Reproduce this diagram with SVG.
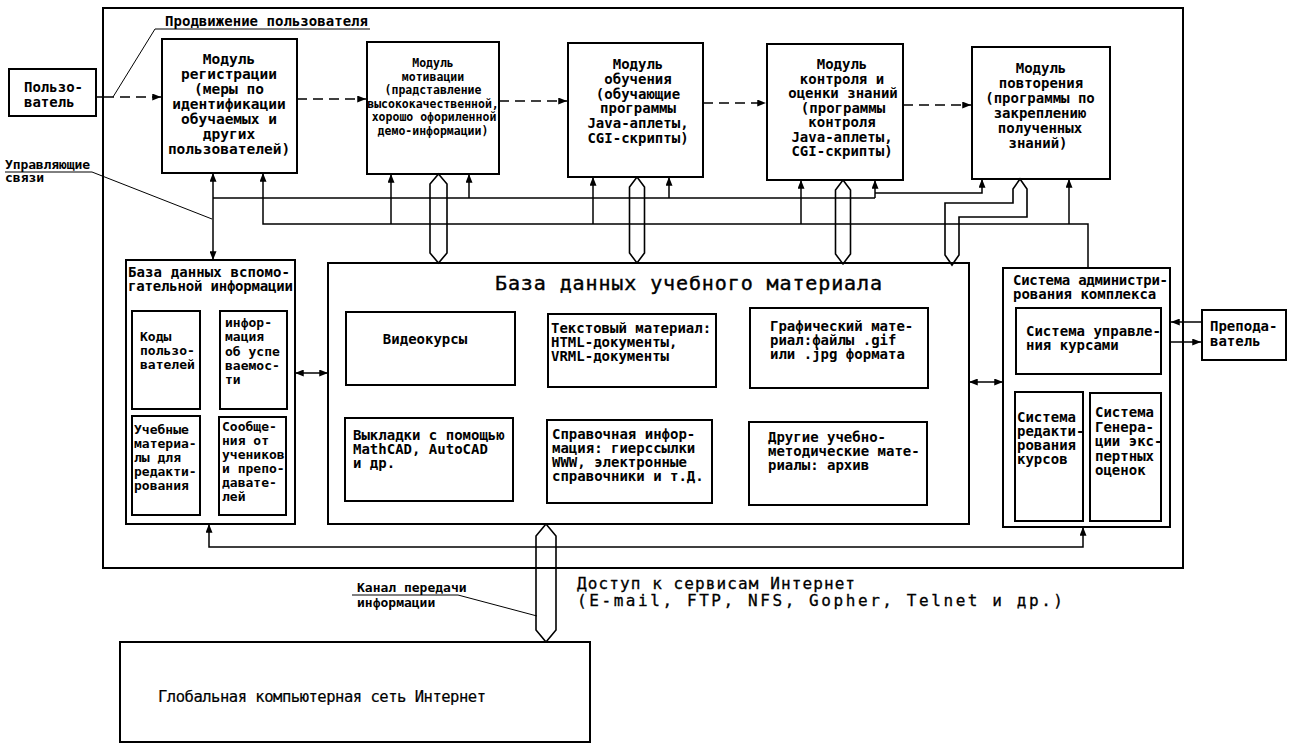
<svg xmlns="http://www.w3.org/2000/svg" width="1293" height="746" viewBox="0 0 1293 746">
  <style>
    .box { fill: none; stroke: #000; stroke-width: 2; }
    .ln { fill: none; stroke: #000; stroke-width: 1.5; }
    .thin { fill: none; stroke: #000; stroke-width: 1; }
    .dash { stroke-dasharray: 10 6; }
    .hollow { fill: none; stroke: #000; stroke-width: 1.6; stroke-linejoin: miter; }
    text { font-family: "DejaVu Sans Mono", "Liberation Mono", monospace; font-size: 14px; font-weight: bold; fill: #000; }
    .c { text-anchor: middle; }
    .m { font-size: 14.5px; }
    .s { font-size: 11.5px; }
    .k { font-size: 13px; }
    .big { font-size: 20px; font-weight: normal; stroke: #000; stroke-width: 0.4px; }
    .l { font-size: 16px; font-weight: normal; stroke: #000; stroke-width: 0.3px; }
    .g { font-size: 15.5px; font-weight: normal; stroke: #000; stroke-width: 0.2px; }
    .n { font-size: 13px; }
  </style>
  <defs>
    <marker id="ah" viewBox="0 0 10 8" refX="10" refY="4" markerWidth="9" markerHeight="7" markerUnits="userSpaceOnUse" orient="auto-start-reverse">
      <path d="M0,0 L10,4 L0,8 z" fill="#000"/>
    </marker>
  </defs>

  <rect x="0" y="0" width="1293" height="746" fill="#fff"/>

  <!-- outer boundary of the learning complex -->
  <rect id="frame" class="box" x="103" y="8" width="1080" height="560"/>

  <g id="user">
    <rect class="box" x="9" y="69" width="87" height="47"/>
    <text x="24" y="92">Пользо-</text>
    <text x="24" y="107">ватель</text>
  </g>

  <g id="mod-registration">
    <rect class="box" x="162" y="39" width="135" height="134"/>
    <text class="c m" x="229" y="64">Модуль</text>
    <text class="c m" x="229" y="79">регистрации</text>
    <text class="c m" x="229" y="94">(меры по</text>
    <text class="c m" x="229" y="109">идентификации</text>
    <text class="c m" x="229" y="124">обучаемых и</text>
    <text class="c m" x="229" y="139">других</text>
    <text class="c m" x="229" y="154">пользователей)</text>
  </g>

  <g id="mod-motivation">
    <rect class="box" x="367" y="42" width="132" height="132"/>
    <text class="c s" x="433" y="67">Модуль</text>
    <text class="c s" x="433" y="81">мотивации</text>
    <text class="c s" x="433" y="94">(прадставление</text>
    <text class="c s" x="433" y="108">высококачественной,</text>
    <text class="c s" x="434" y="121">хорошо офориленной</text>
    <text class="c s" x="433" y="135">демо-информации)</text>
  </g>

  <g id="mod-learning">
    <rect class="box" x="568" y="43" width="135" height="134"/>
    <text class="c" x="638" y="69">Модуль</text>
    <text class="c" x="638" y="84">обучения</text>
    <text class="c" x="638" y="99">(обучающие</text>
    <text class="c" x="638" y="113">программы</text>
    <text class="c" x="638" y="128">Java-аплеты,</text>
    <text class="c" x="638" y="143">CGI-скрипты)</text>
  </g>

  <g id="mod-control">
    <rect class="box" x="767" y="44" width="136" height="136"/>
    <text class="c" x="842" y="69">Модуль</text>
    <text class="c" x="842" y="84">контроля и</text>
    <text class="c" x="843" y="98">оценки знаний</text>
    <text class="c" x="843" y="113">(программы</text>
    <text class="c" x="842" y="127">контроля</text>
    <text class="c" x="842" y="142">Java-аплеты,</text>
    <text class="c" x="842" y="156">CGI-скрипты)</text>
  </g>

  <g id="mod-repeat">
    <rect class="box" x="972" y="47" width="138" height="132"/>
    <text class="c" x="1041" y="73">Модуль</text>
    <text class="c" x="1041" y="88">повторения</text>
    <text class="c" x="1040" y="103">(программы по</text>
    <text class="c" x="1040" y="118">закреплению</text>
    <text class="c" x="1040" y="133">полученных</text>
    <text class="c" x="1038" y="148">знаний)</text>
  </g>

  <g id="db-aux">
    <rect class="box" x="126" y="260" width="169" height="264"/>
    <text x="128" y="277" textLength="162">База данных вспомо-</text>
    <text x="128" y="291" textLength="165">гательной информации</text>
    <rect class="box" x="132" y="311" width="68" height="98"/>
    <text class="k" x="140" y="341">Коды</text>
    <text class="k" x="140" y="355">пользо-</text>
    <text class="k" x="140" y="369">вателей</text>
    <rect class="box" x="220" y="311" width="67" height="98"/>
    <text class="k" x="225" y="327">инфор-</text>
    <text class="k" x="225" y="341">мация</text>
    <text class="k" x="225" y="356">об успе</text>
    <text class="k" x="225" y="370">ваемос-</text>
    <text class="k" x="225" y="384">ти</text>
    <rect class="box" x="132" y="416" width="68" height="99"/>
    <text class="k" x="134" y="434">Учебные</text>
    <text class="k" x="134" y="448">материа-</text>
    <text class="k" x="134" y="462">лы для</text>
    <text class="k" x="134" y="476">редакти-</text>
    <text class="k" x="134" y="490">рования</text>
    <rect class="box" x="219" y="417" width="67" height="98"/>
    <text class="k" x="222" y="431">Сообще-</text>
    <text class="k" x="222" y="445">ния от</text>
    <text class="k" x="222" y="459">учеников</text>
    <text class="k" x="222" y="473">и препо-</text>
    <text class="k" x="222" y="487">давате-</text>
    <text class="k" x="222" y="501">лей</text>
  </g>

  <g id="db-main">
    <rect class="box" x="328" y="263" width="641" height="261"/>
    <text class="big" x="495" y="290" textLength="387">База данных учебного материала</text>
    <rect class="box" x="346" y="312" width="169" height="73"/>
    <text class="c" x="425" y="344">Видеокурсы</text>
    <rect class="box" x="548" y="314" width="168" height="73"/>
    <text x="551" y="333">Текстовый материал:</text>
    <text x="551" y="347">HTML-документы,</text>
    <text x="551" y="361">VRML-документы</text>
    <rect class="box" x="750" y="308" width="178" height="80"/>
    <text x="770" y="331">Графический мате-</text>
    <text x="770" y="345">риал:файлы .gif</text>
    <text x="770" y="359">или .jpg формата</text>
    <rect class="box" x="345" y="418" width="168" height="83"/>
    <text x="353" y="440">Выкладки с помощью</text>
    <text x="353" y="454">MathCAD, AutoCAD</text>
    <text x="353" y="468">и др.</text>
    <rect class="box" x="547" y="420" width="165" height="83"/>
    <text x="552" y="439">Справочная инфор-</text>
    <text x="552" y="453">мация: гиерссылки</text>
    <text x="552" y="467">WWW, электронные</text>
    <text x="552" y="481">справочники и т.Д.</text>
    <rect class="box" x="749" y="422" width="178" height="83"/>
    <text x="768" y="442">Другие учебно-</text>
    <text x="768" y="456">методические мате-</text>
    <text x="768" y="470">риалы: архив</text>
  </g>

  <g id="admin">
    <rect class="box" x="1003" y="268" width="167" height="259"/>
    <text x="1013" y="285" textLength="155">Система администри-</text>
    <text x="1013" y="299">рования комплекса</text>
    <rect class="box" x="1016" y="308" width="145" height="66"/>
    <text x="1026" y="336">Система управле-</text>
    <text x="1026" y="350">ния курсами</text>
    <rect class="box" x="1015" y="392" width="68" height="129"/>
    <text x="1017" y="422">Система</text>
    <text x="1017" y="436">редакти-</text>
    <text x="1017" y="450">рования</text>
    <text x="1017" y="464">курсов</text>
    <rect class="box" x="1090" y="393" width="71" height="128"/>
    <text x="1095" y="417">Система</text>
    <text x="1095" y="432">Генера-</text>
    <text x="1095" y="446">ции экс-</text>
    <text x="1095" y="461">пертных</text>
    <text x="1095" y="475">оценок</text>
  </g>

  <g id="teacher">
    <rect class="box" x="1202" y="310" width="84" height="50"/>
    <text x="1210" y="331">Препода-</text>
    <text x="1210" y="346">ватель</text>
  </g>

  <g id="internet">
    <rect class="box" x="120" y="642" width="470" height="100"/>
    <text class="g" x="158" y="702" textLength="328">Глобальная компьютерная сеть Интернет</text>
  </g>

  <g id="labels">
    <text x="165" y="26" textLength="203">Продвижение пользователя</text>
    <text class="n" x="5" y="169" textLength="85">Управляющие</text>
    <text class="n" x="5" y="182">связи</text>
    <text class="n" x="357" y="592">Канал передачи</text>
    <text class="n" x="357" y="607">информации</text>
    <text class="l" x="577" y="589" textLength="278">Доступ к сервисам Интернет</text>
    <text class="l" x="577" y="606" textLength="486">(E-mail, FTP, NFS, Gopher, Telnet и др.)</text>
  </g>

  <g id="connectors">
    <!-- learner path through the modules -->
    <path class="ln" d="M96,97 H104"/>
    <path class="ln dash" d="M104,97 H161" marker-end="url(#ah)"/>
    <path class="ln dash" d="M297,99 H366" marker-end="url(#ah)"/>
    <path class="ln dash" d="M499,101 H567" marker-end="url(#ah)"/>
    <path class="ln dash" d="M703,103 H766" marker-end="url(#ah)"/>
    <path class="ln dash" d="M903,105 H971" marker-end="url(#ah)"/>

    <!-- callout leaders -->
    <path class="thin" d="M155,29 H370"/>
    <path class="thin" d="M155,29 L113,97"/>
    <path class="thin" d="M5,172 H92 L212,219"/>
    <path class="thin" d="M352,595 H458 L537,616"/>

    <!-- control links, upper bus -->
    <path class="ln" d="M213,260 V173" marker-start="url(#ah)" marker-end="url(#ah)"/>
    <path class="ln" d="M213,198 H875"/>
    <path class="ln" d="M469,198 V174" marker-end="url(#ah)"/>
    <path class="ln" d="M669,198 V177" marker-end="url(#ah)"/>
    <path class="ln" d="M875,198 V180" marker-end="url(#ah)"/>
    <path class="ln" d="M875,193 H982 V179" marker-end="url(#ah)"/>

    <!-- control links, lower bus from the administration system -->
    <path class="ln" d="M1088,268 V224 H263 V173" marker-end="url(#ah)"/>
    <path class="ln" d="M391,224 V174" marker-end="url(#ah)"/>
    <path class="ln" d="M593,224 V177" marker-end="url(#ah)"/>
    <path class="ln" d="M801,224 V180" marker-end="url(#ah)"/>
    <path class="ln" d="M1069,224 V179" marker-end="url(#ah)"/>

    <!-- data channels between modules and the material database -->
    <polygon class="hollow" points="438.5,174 447,184 447,253 438.5,263 430,253 430,184"/>
    <polygon class="hollow" points="637,177 644.5,187 644.5,253 637,263 629.5,253 629.5,187"/>
    <polygon class="hollow" points="843,180 850.5,190 850.5,254 843,264 835.5,254 835.5,190"/>
    <path class="hollow" d="M1020,179 L1027,189 V217 H959 V255 L952,265 L945,255 V203 H1013 V189 Z"/>

    <!-- database links -->
    <path class="ln" d="M295,373 H328" marker-start="url(#ah)" marker-end="url(#ah)"/>
    <path class="ln" d="M969,382 H1003" marker-start="url(#ah)" marker-end="url(#ah)"/>
    <path class="ln" d="M209,524 V547 H1083 V527" marker-start="url(#ah)" marker-end="url(#ah)"/>

    <!-- teacher to administration system -->
    <path class="ln" d="M1202,322 H1171" marker-end="url(#ah)"/>
    <path class="ln" d="M1170,342 H1201" marker-end="url(#ah)"/>

    <!-- channel to the Internet -->
    <polygon class="hollow" points="546,524 556,536 556,630 546,642 536,630 536,536"/>
  </g>
</svg>
